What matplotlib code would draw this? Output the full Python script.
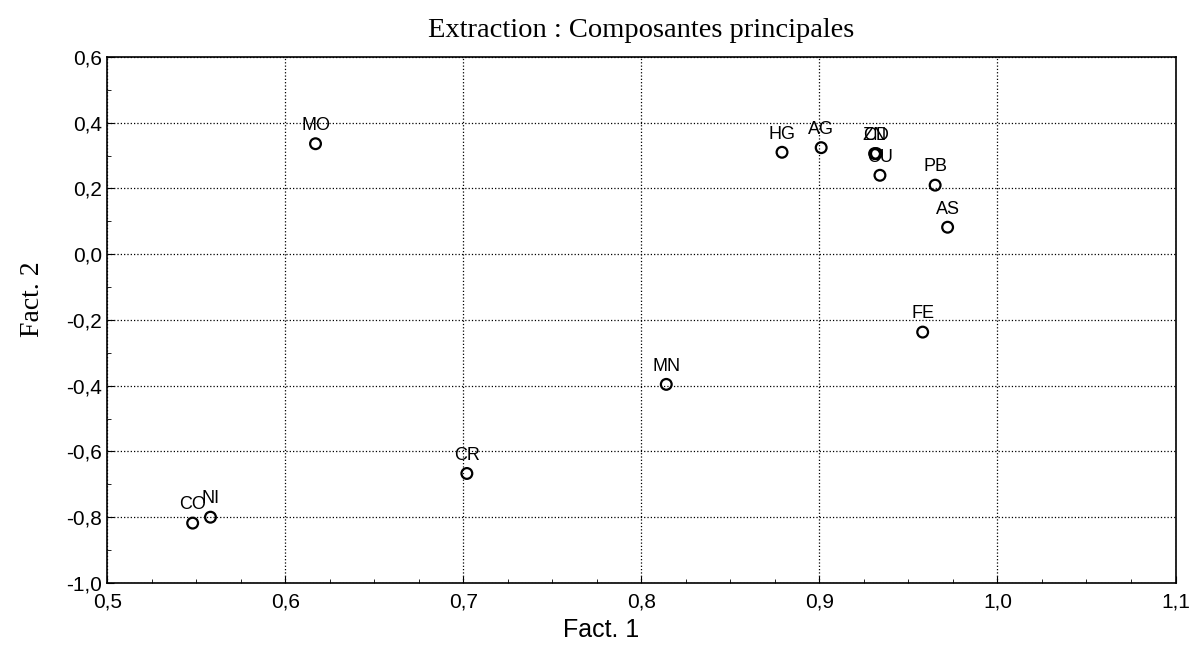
import matplotlib.pyplot as plt
from matplotlib.ticker import MultipleLocator, FuncFormatter

# Coordonnées des variables sur les deux premiers facteurs
variables = ['MO', 'HG', 'AG', 'ZN', 'CD', 'CU', 'PB', 'AS', 'FE', 'MN', 'CR', 'CO', 'NI']
fact1 = [0.617, 0.879, 0.901, 0.931, 0.932, 0.934, 0.965, 0.972, 0.958, 0.814, 0.702, 0.548, 0.558]
fact2 = [0.336, 0.310, 0.324, 0.306, 0.306, 0.240, 0.210, 0.082, -0.237, -0.396, -0.667, -0.818, -0.800]

fig = plt.figure(figsize=(11.91, 6.47), dpi=100)
ax = fig.add_axes([0.09, 0.099, 0.897, 0.813])

ax.scatter(fact1, fact2, s=60, facecolors='none', edgecolors='black', linewidths=1.6, zorder=3)
for nom, x, y in zip(variables, fact1, fact2):
    ax.annotate(nom, (x, y), xytext=(0, 7), textcoords='offset points',
                ha='center', va='bottom', fontsize=13, family='Liberation Sans')

ax.set_xlim(0.5, 1.1)
ax.set_ylim(-1.0, 0.6)
ax.xaxis.set_major_locator(MultipleLocator(0.1))
ax.xaxis.set_minor_locator(MultipleLocator(0.025))
ax.yaxis.set_major_locator(MultipleLocator(0.2))
ax.yaxis.set_minor_locator(MultipleLocator(0.1))

virgule = FuncFormatter(lambda v, pos: f'{v:.1f}'.replace('.', ','))
ax.xaxis.set_major_formatter(virgule)
ax.yaxis.set_major_formatter(virgule)
ax.tick_params(which='both', direction='in', labelsize=15)
ax.tick_params(which='major', length=5)
ax.tick_params(which='minor', length=3)
ax.tick_params(axis='x', pad=7)
for lab in ax.get_xticklabels() + ax.get_yticklabels():
    lab.set_family('Liberation Sans')

ax.grid(True, which='major', linestyle=':', color='black', linewidth=0.9)
for s in ax.spines.values():
    s.set_linewidth(1.2)

ax.set_title('Extraction : Composantes principales', family='Liberation Serif', fontsize=20.5, pad=14)
ax.set_xlabel('Fact. 1', family='Liberation Sans', fontsize=18)
ax.set_ylabel('Fact. 2', family='Liberation Serif', fontsize=20)
ax.xaxis.set_label_coords(0.462, -0.066)
ax.yaxis.set_label_coords(-0.058, 0.54)

fig.savefig('out.png', dpi=100)
